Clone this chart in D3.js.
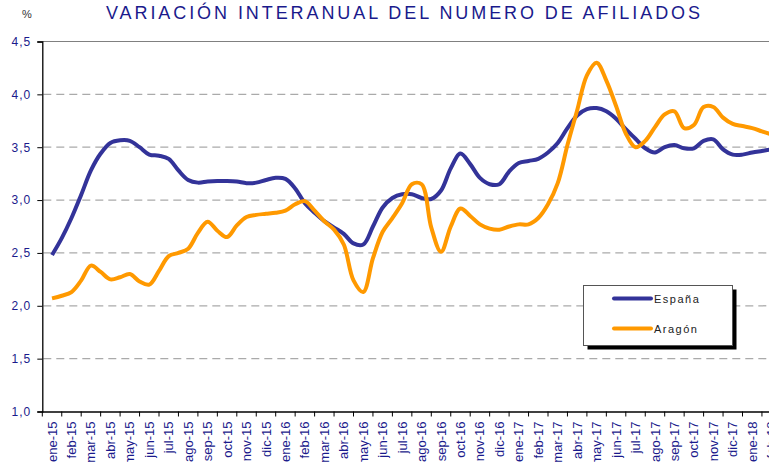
<!DOCTYPE html>
<html>
<head>
<meta charset="utf-8">
<script src="https://cdn.jsdelivr.net/npm/d3@7"></script>
<style>
  body { margin: 0; background: #fff; }
  svg { display: block; font-family: "Liberation Sans", Arial, sans-serif; }
</style>
</head>
<body>
<div id="chart"></div>
<script>
const months = [
  "ene-15", "feb-15", "mar-15", "abr-15", "may-15", "jun-15", "jul-15", "ago-15", "sep-15", "oct-15", "nov-15", "dic-15",
  "ene-16", "feb-16", "mar-16", "abr-16", "may-16", "jun-16", "jul-16", "ago-16", "sep-16", "oct-16", "nov-16", "dic-16",
  "ene-17", "feb-17", "mar-17", "abr-17", "may-17", "jun-17", "jul-17", "ago-17", "sep-17", "oct-17", "nov-17", "dic-17",
  "ene-18", "feb-18"
];

// two readings per month (start / middle)
const espana = [
  2.48, 2.64, 2.83, 3.05, 3.28, 3.44, 3.54, 3.565, 3.56, 3.50,
  3.43, 3.42, 3.39, 3.28, 3.19, 3.165, 3.175, 3.18, 3.18, 3.175,
  3.16, 3.165, 3.19, 3.21, 3.20, 3.11, 2.97, 2.88, 2.80, 2.74,
  2.68, 2.59, 2.58, 2.75, 2.93, 3.02, 3.055, 3.055, 3.02, 3.01,
  3.09, 3.30, 3.44, 3.34, 3.21, 3.15, 3.15, 3.27, 3.35, 3.37,
  3.39, 3.45, 3.54, 3.68, 3.80, 3.86, 3.87, 3.84, 3.77, 3.67,
  3.58, 3.49, 3.45, 3.50, 3.52, 3.49, 3.49, 3.56, 3.575, 3.48,
  3.43, 3.43, 3.45, 3.465, 3.48
];

const aragon = [
  2.07, 2.095, 2.13, 2.24, 2.38, 2.32, 2.25, 2.27, 2.30, 2.23,
  2.20, 2.33, 2.47, 2.50, 2.54, 2.69, 2.795, 2.71, 2.65, 2.76,
  2.84, 2.86, 2.87, 2.88, 2.90, 2.96, 2.99, 2.90, 2.80, 2.72,
  2.58, 2.24, 2.13, 2.45, 2.70, 2.83, 2.97, 3.15, 3.15, 2.74,
  2.51, 2.75, 2.92, 2.85, 2.77, 2.73, 2.72, 2.75, 2.77, 2.77,
  2.83, 2.96, 3.16, 3.52, 3.85, 4.18, 4.30, 4.13, 3.89, 3.63,
  3.50, 3.56, 3.69, 3.81, 3.84, 3.68, 3.71, 3.88, 3.88, 3.78,
  3.72, 3.70, 3.68, 3.65, 3.62
];

const yTicks = [1.0, 1.5, 2.0, 2.5, 3.0, 3.5, 4.0, 4.5];

const width = 769, height = 462;
const plotLeft = 42.3, plotTop = 41.5, plotBottom = 411.5;
const bandW = 19.45;

const svg = d3.select("#chart").append("svg")
  .attr("width", width)
  .attr("height", height);

const x = d3.scaleBand()
  .domain(months)
  .range([plotLeft, plotLeft + bandW * months.length])
  .padding(0);

// position of each half-month reading along the month axis
const xi = d3.scaleLinear()
  .domain([0, months.length - 1])
  .range([x(months[0]) + x.bandwidth() / 2, x(months[months.length - 1]) + x.bandwidth() / 2]);

const y = d3.scaleLinear().domain([1, 4.5]).range([plotBottom, plotTop]);

// title
const title = svg.append("text")
  .attr("x", 106)
  .attr("y", 18.5)
  .attr("fill", "#1a1a8c")
  .style("font-size", "18px")
  .text("VARIACIÓN INTERANUAL DEL NUMERO DE AFILIADOS");
const tw = title.node().getComputedTextLength();
title.style("letter-spacing", ((594 - tw) / 43).toFixed(2) + "px");

svg.append("text")
  .attr("x", 27)
  .attr("y", 18)
  .attr("text-anchor", "middle")
  .attr("fill", "#333")
  .style("font-size", "11px")
  .text("%");

// gridlines
svg.append("g")
  .selectAll("line")
  .data(yTicks.filter(d => d > 1 && d < 4.5))
  .join("line")
  .attr("x1", plotLeft + 1)
  .attr("x2", width)
  .attr("y1", d => y(d))
  .attr("y2", d => y(d))
  .attr("stroke", "#aaa")
  .attr("stroke-width", 1.3)
  .attr("stroke-dasharray", "8,5");

svg.append("line")
  .attr("x1", plotLeft)
  .attr("x2", width)
  .attr("y1", y(4.5))
  .attr("y2", y(4.5))
  .attr("stroke", "#808080")
  .attr("stroke-width", 1);

// y axis
const yAxis = svg.append("g")
  .attr("transform", `translate(${plotLeft},0)`)
  .call(d3.axisLeft(y).tickValues(yTicks).tickSize(5).tickPadding(6)
    .tickFormat(d => d3.format(".1f")(d).replace(".", ",")));
yAxis.select(".domain").attr("stroke", "#000").attr("stroke-width", 1.3);
yAxis.selectAll(".tick line").attr("stroke", "#000");
yAxis.selectAll(".tick text")
  .attr("fill", "#1a1a8c")
  .style("font-size", "12px")
  .style("letter-spacing", "1px")
  .style("font-family", "'Liberation Sans', Arial, sans-serif");

// x axis
const xAxis = svg.append("g")
  .attr("transform", `translate(0,${plotBottom})`)
  .call(d3.axisBottom(x).tickSize(0).tickPadding(0));
xAxis.select(".domain").attr("stroke", "#000").attr("stroke-width", 1.3);
xAxis.selectAll(".tick text")
  .attr("fill", "#1a1a8c")
  .style("font-size", "13px")
  .style("font-family", "'Liberation Sans', Arial, sans-serif")
  .attr("text-anchor", "end")
  .attr("transform", "rotate(-90)")
  .attr("x", -10)
  .attr("y", 0)
  .attr("dy", "0.35em");

// tick marks on band boundaries
svg.append("g")
  .selectAll("line")
  .data(months)
  .join("line")
  .attr("x1", d => x(d))
  .attr("x2", d => x(d))
  .attr("y1", plotBottom)
  .attr("y2", plotBottom + 5)
  .attr("stroke", "#000");

// series
const line = d3.line()
  .x((d, i) => xi(i / 2))
  .y(d => y(d))
  .curve(d3.curveCatmullRom.alpha(0.5));

svg.append("path")
  .datum(espana)
  .attr("fill", "none")
  .attr("stroke", "#333399")
  .attr("stroke-width", 4)
  .attr("stroke-linejoin", "round")
  .attr("d", line);

svg.append("path")
  .datum(aragon)
  .attr("fill", "none")
  .attr("stroke", "#ff9900")
  .attr("stroke-width", 4)
  .attr("stroke-linejoin", "round")
  .attr("d", line);

// legend
const lg = svg.append("g");
lg.append("rect")
  .attr("x", 587.5).attr("y", 289.5)
  .attr("width", 149).attr("height", 60)
  .attr("fill", "#000");
lg.append("rect")
  .attr("x", 583.5).attr("y", 285.5)
  .attr("width", 149).attr("height", 60)
  .attr("fill", "#fff")
  .attr("stroke", "#555");

const legendItems = [["España", "#333399"], ["Aragón", "#ff9900"]];
legendItems.forEach(([name, color], i) => {
  const ly = 298.5 + i * 30;
  lg.append("line")
    .attr("x1", 614).attr("x2", 651)
    .attr("y1", ly).attr("y2", ly)
    .attr("stroke", color)
    .attr("stroke-width", 4)
    .attr("stroke-linecap", "round");
  lg.append("text")
    .attr("x", 654)
    .attr("y", ly + 4)
    .attr("fill", "#222")
    .style("font-size", "11px")
    .style("letter-spacing", "1.5px")
    .text(name);
});
</script>
</body>
</html>
